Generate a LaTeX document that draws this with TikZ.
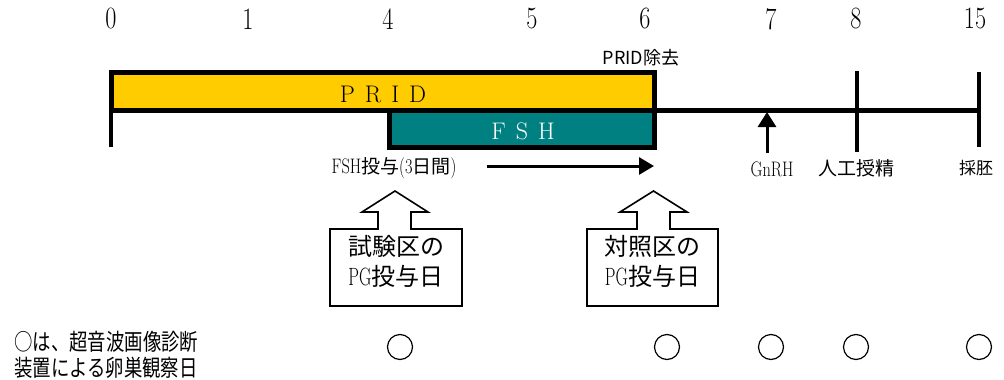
\documentclass[tikz,border=0pt]{standalone}
\usepackage{fontspec}
\newfontfamily\jp{Noto Sans CJK JP}
\newfontfamily\jpc[FakeStretch=0.8]{Noto Sans CJK JP}
\usetikzlibrary{arrows.meta}
\definecolor{pridy}{HTML}{FFCC00}
\definecolor{fshg}{HTML}{008080}
\newcommand{\narrow}[1]{\scalebox{0.78}[1]{#1}}
\begin{document}
\begin{tikzpicture}[x=1pt,y=-1pt,
  bar/.style={draw=black,line width=5pt,inner sep=0pt,outer sep=0pt,anchor=north west},
  num/.style={font=\fontsize{31}{31}\selectfont},
  lab/.style={font=\fontsize{21}{21}\selectfont},
  callout/.style={draw=black,line width=1.6pt,line join=miter},
  calltext/.style={align=center,font=\fontsize{24}{30}\selectfont\jp},
  obs/.style={draw=black,line width=1.2pt,circle,minimum size=25pt,inner sep=0pt},
  tick/.style={line width=4pt},
  arr/.style={line width=3pt,-{Triangle[length=15pt,width=17pt]}}]
\useasboundingbox (0,0) rectangle (1004,380);
% day numbers
\node[num] (d0) at (111,19) {\narrow{0}};
\node[num] (d1) at (248,19) {\narrow{1}};
\node[num] (d4) at (388,19) {\narrow{4}};
\node[num] (d5) at (532,19) {\narrow{5}};
\node[num] (d6) at (645,19) {\narrow{6}};
\node[num] (d7) at (771,19) {\narrow{7}};
\node[num] (d8) at (856,19) {\narrow{8}};
\node[num] (d15) at (975,19) {\narrow{15}};
% bars
\node[bar,fill=pridy,minimum width=543.5pt,minimum height=38pt] (prid) at (111,72) {};
\node[bar,fill=fshg,minimum width=265pt,minimum height=37.5pt] (fsh) at (389.5,110) {};
\node[font=\fontsize{24}{24}\selectfont] (pridt) at (383,94) {P\hspace{10pt}R\hspace{10pt}I\hspace{10pt}D};
\node[font=\fontsize{24}{24}\selectfont,text=white] (fsht) at (523,131) {F\hspace{10pt}S\hspace{10pt}H};
\node[font=\fontsize{18}{18}\selectfont\jp] (pridrm) at (641,58) {PRID除去};
% axis
\coordinate (lt) at (111,72);
\coordinate (lb) at (111,147);
\coordinate (axend) at (978.5,110);
\coordinate (rt) at (978.5,72);
\coordinate (rb) at (978.5,147);
\coordinate (t8t) at (856.5,71);
\coordinate (t8b) at (856.5,152);
\draw[tick] (lt) -- (lb);
\draw[line width=5pt] (prid.south east) -- (axend);
\draw[tick] (rt) -- (rb);
\draw[tick] (t8t) -- (t8b);
% GnRH arrow
\coordinate (gb) at (767,153);
\coordinate (gt) at (767,112);
\draw[line width=3pt,-{Triangle[length=15pt,width=18pt]}] (gb) -- (gt);
% labels under axis
\node[lab] (fshlab) at (394,168) {\narrow{FSH}{\jp\fontsize{19}{19}\selectfont 投与}\narrow{(3}{\jp\fontsize{19}{19}\selectfont 日間}\narrow{)}};
\coordinate (fa) at (487,166);
\coordinate (fb) at (654,166);
\draw[arr] (fa) -- (fb);
\node[lab] (gnrh) at (772,169) {\narrow{GnRH}};
\node[font=\fontsize{19}{19}\selectfont\jp] (ai) at (856,168) {人工授精};
\node[font=\fontsize{17}{17}\selectfont\jp] (sai) at (976,168) {採胚};
% callouts
\draw[callout] (330,229) -- (378,229) -- (378,212) -- (362,212) -- (395,191) -- (428,212) -- (411,212) -- (411,229) -- (462,229) -- (462,306) -- (330,306) -- cycle;
\node[calltext] (c1) at (396,261) {試験区の\\{\fontsize{25}{30}\selectfont\rmfamily\scalebox{0.68}[1]{PG}}投与日};
\draw[callout] (587,229) -- (637,229) -- (637,212) -- (620,212) -- (653.5,191) -- (687,212) -- (670,212) -- (670,229) -- (718,229) -- (718,306) -- (587,306) -- cycle;
\node[calltext] (c2) at (652.5,261) {対照区の\\{\fontsize{25}{30}\selectfont\rmfamily\scalebox{0.68}[1]{PG}}投与日};
% observation note
\node[anchor=west,font=\fontsize{23}{23}\selectfont\jpc,inner sep=0pt] (note1) at (14,342) {○は、超音波画像診断};
\node[anchor=west,font=\fontsize{23}{23}\selectfont\jpc,inner sep=0pt] (note2) at (14,368) {装置による卵巣観察日};
\node[obs] (o1) at (400,347) {};
\node[obs] (o2) at (667,347) {};
\node[obs] (o3) at (771,347) {};
\node[obs] (o4) at (856,347) {};
\node[obs] (o5) at (979,347) {};
\end{tikzpicture}
\end{document}
